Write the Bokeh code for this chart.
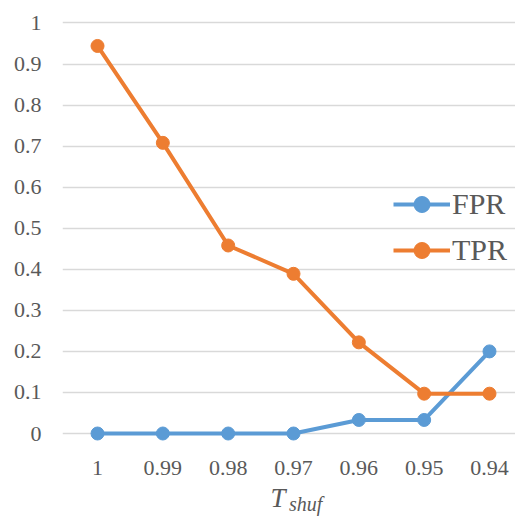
from bokeh.plotting import figure
from bokeh.models import Range1d, FixedTicker, Legend, LegendItem, Label
from bokeh.embed import file_html
from bokeh.resources import INLINE

# Threshold values on the x axis (categories, left to right)
thresholds = ["1", "0.99", "0.98", "0.97", "0.96", "0.95", "0.94"]
fpr = [0.0, 0.0, 0.0, 0.0, 0.033, 0.033, 0.2]
tpr = [0.944, 0.708, 0.458, 0.389, 0.222, 0.097, 0.097]
y_ticks = [0, 0.1, 0.2, 0.3, 0.4, 0.5, 0.6, 0.7, 0.8, 0.9, 1]

BLUE = "#5B9BD5"
ORANGE = "#ED7D31"
TEXT = "#595959"
GRID = "#D9D9D9"
FONT = "Liberation Serif"

xs = list(range(len(thresholds)))

# the frame runs to the bottom edge so the x title below the axis is not clipped
p = figure(width=515, height=517, output_backend="svg", toolbar_location=None,
           x_range=Range1d(-0.536, 6.398), y_range=Range1d(-0.2046, 1.0158),
           min_border_left=62, min_border_right=0, min_border_top=16, min_border_bottom=0)
p.outline_line_color = None
p.background_fill_color = "white"
p.border_fill_color = "white"

# axes
p.xaxis.ticker = FixedTicker(ticks=xs)
p.xaxis.major_label_overrides = {i: t for i, t in enumerate(thresholds)}
p.xaxis.fixed_location = -0.0317
p.yaxis.ticker = FixedTicker(ticks=y_ticks)
p.yaxis.major_label_overrides = {t: ("%g" % t) for t in y_ticks}
for ax in (p.xaxis[0], p.yaxis[0]):
    ax.axis_line_color = None
    ax.major_tick_line_color = None
    ax.minor_tick_line_color = None
    ax.major_label_text_font = FONT
    ax.major_label_text_font_size = "22px"
    ax.major_label_text_color = TEXT
p.xaxis.major_label_standoff = 8
p.yaxis.major_label_standoff = 15

p.xgrid.grid_line_color = None
p.ygrid.grid_line_color = GRID
p.ygrid.grid_line_width = 1.3

# series
r_fpr_l = p.line(xs, fpr, line_color=BLUE, line_width=4)
r_fpr_m = p.scatter(xs, fpr, size=13, fill_color=BLUE, line_color=BLUE)
r_tpr_l = p.line(xs, tpr, line_color=ORANGE, line_width=4)
r_tpr_m = p.scatter(xs, tpr, size=13, fill_color=ORANGE, line_color=ORANGE)

legend = Legend(items=[LegendItem(label="FPR", renderers=[r_fpr_l, r_fpr_m]),
                       LegendItem(label="TPR", renderers=[r_tpr_l, r_tpr_m])],
                location=(331, 247), orientation="vertical",
                glyph_width=57, glyph_height=40, label_height=40, spacing=6,
                label_standoff=2, padding=0, margin=0,
                label_text_font=FONT, label_text_font_size="30px",
                label_text_color=TEXT, background_fill_alpha=0,
                border_line_alpha=0)
p.add_layout(legend, "center")

# x-axis title: italic T with subscript "shuf"
p.add_layout(Label(x=2.648, y=-0.158, text="T", text_font=FONT,
                   text_font_style="italic", text_font_size="27px",
                   text_color=TEXT, text_baseline="alphabetic"))
p.add_layout(Label(x=2.93, y=-0.172, text="shuf", text_font=FONT,
                   text_font_style="italic", text_font_size="20px",
                   text_color=TEXT, text_baseline="alphabetic"))

open("out.html", "w").write(file_html(p, INLINE))
